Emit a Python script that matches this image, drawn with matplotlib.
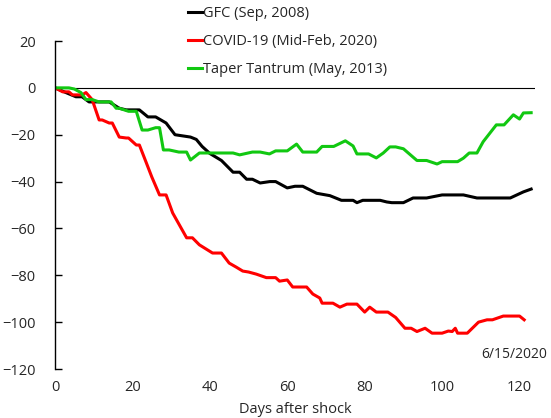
import matplotlib
matplotlib.use("Agg")
import matplotlib.pyplot as plt

plt.rcParams['font.family'] = ['Open Sans', 'DejaVu Sans']

# days after shock / cumulative change
gfc_d = [0, 2.8, 5.4, 7, 8.8, 14, 16.6, 18.4, 21.8, 24, 26, 28.7, 31, 33, 35, 36.5, 38, 40, 43, 46,
         47.7, 49.5, 51, 53, 55.5, 57, 60, 62, 64, 67.6, 71, 74, 77, 78, 79.5, 84, 85.7, 87, 90, 92.5,
         96, 100, 105.5, 109, 117.6, 121, 123]
gfc_v = [0, -2, -3.8, -3.8, -6, -6, -8.7, -9.4, -9.4, -12.4, -12.4, -15, -20, -20.5, -21, -22, -25, -28, -31, -36,
         -36, -39, -39, -40.6, -40, -40, -42.7, -42, -42, -45, -46, -48, -48, -49, -48, -48, -48.7, -49, -49, -47,
         -47, -45.7, -45.7, -47, -47, -44.4, -43.2]

covid_d = [0, 2, 3.6, 4.5, 7, 8, 9.6, 11.4, 12.2, 14, 14.8, 16.6, 18.4, 19, 21, 21.8, 23.5, 25, 27, 28.7,
           30.4, 34, 35.5, 37.3, 40.7, 43, 45, 46.8, 48.5, 50, 52, 54.6, 57, 58, 60, 61.4, 65, 66.6, 68.4, 69,
           71.8, 73.6, 75.4, 78, 80, 81.3, 83, 86, 88, 90.4, 92, 93.5, 95.6, 97.4, 100, 101.6, 102.6, 103.4, 104, 106.5,
           109.4, 111.6, 113, 115.8, 120, 121.2]
covid_v = [0, -1.7, -1.7, -3, -3, -2, -5, -13.7, -13.7, -15, -15, -21, -21.4, -21.4, -24.4, -24.4, -31.6, -38, -45.7, -45.7,
           -53.4, -64, -64, -67, -70.5, -70.5, -74.8, -76.5, -78.2, -78.6, -79.5, -81, -81, -82.5, -82, -85, -85, -88, -89.7, -91.9,
           -91.9, -93.6, -92.3, -92.3, -95.7, -93.6, -95.7, -95.7, -98, -102.6, -102.6, -104, -102.6, -104.7, -104.7, -103.8, -104, -102.6, -104.7, -104.7,
           -100, -99, -99, -97.4, -97.4, -99]

taper_d = [0, 3.6, 5, 6.7, 8, 9.6, 11.4, 14.5, 15.8, 16.6, 19, 21, 22.5, 24, 26, 27, 28, 29.5, 32, 34,
           35, 37.3, 40, 41.7, 44, 46, 47.7, 51, 53, 55.4, 57, 60, 62.4, 64, 67.6, 69, 72, 75, 77, 78,
           81, 83, 84.8, 86.5, 88, 90, 93.5, 96, 98.7, 100, 104, 105.5, 107, 109, 110.6, 114, 116, 118.4, 120, 121,
           123]
taper_v = [0, 0, -0.5, -2, -5, -5, -6, -6, -8.7, -8.7, -10, -10, -18, -18, -17, -17, -26.5, -26.5, -27.4, -27.4,
           -30.8, -27.8, -27.8, -27.8, -27.8, -27.8, -28.6, -27.4, -27.4, -28.2, -26.9, -26.9, -24, -27.4, -27.4, -25, -25, -22.6, -24.8, -28.2,
           -28.2, -29.9, -27.8, -25.2, -25.2, -26, -31, -31, -32.5, -31.5, -31.5, -30, -27.8, -27.8, -23, -15.8, -15.8, -11.5, -13.3, -10.7,
           -10.6]

labels = ["GFC (Sep, 2008)", "COVID-19 (Mid-Feb, 2020)", "Taper Tantrum (May, 2013)"]
txt = '#262626'
fs = 10.5

fig = plt.figure(figsize=(5.51, 4.18), dpi=100)
ax = fig.add_axes([0.0998, 0.1172, 0.8712, 0.7847])

l1, = ax.plot(gfc_d, gfc_v, color='black', lw=2.2, solid_joinstyle='round')
l2, = ax.plot(covid_d, covid_v, color='#ff0000', lw=2.2, solid_joinstyle='round')
l3, = ax.plot(taper_d, taper_v, color='#11c811', lw=2.2, solid_joinstyle='round')
ax.axhline(0, color='black', lw=0.8, zorder=1)

ax.set_xlim(0, 124)
ax.set_ylim(-120, 20)
ax.set_xticks(range(0, 121, 20))
ax.set_yticks(range(-120, 21, 20))
for s in ['top', 'right', 'bottom']:
    ax.spines[s].set_visible(False)
ax.spines['left'].set_linewidth(1.0)
ax.tick_params(axis='y', direction='in', length=5, width=1.0, pad=14, labelsize=fs, labelcolor=txt)
ax.tick_params(axis='x', length=0, pad=8, labelsize=fs, labelcolor=txt)
ax.set_xlabel("Days after shock", fontsize=fs, color=txt, labelpad=5)

fig.legend([l1, l2, l3], labels, loc='center left', bbox_to_anchor=(0.341, 0.9007),
           frameon=False, fontsize=fs, handlelength=0.95, handletextpad=0.1,
           labelspacing=0.87, borderpad=0, borderaxespad=0, labelcolor=txt)

fig.text(0.993, 0.151, "6/15/2020", ha='right', va='center', fontsize=10, color=txt)

fig.savefig("out.png", dpi=100)
